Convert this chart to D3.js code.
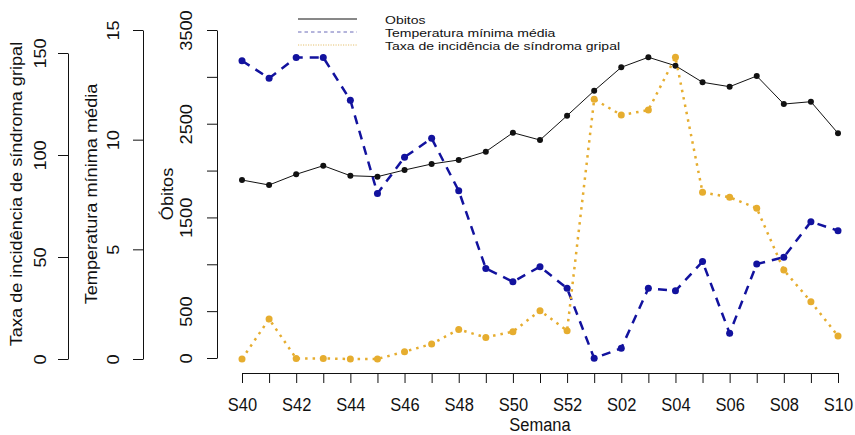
<!DOCTYPE html>
<html>
<head>
<meta charset="utf-8">
<script src="https://cdn.jsdelivr.net/npm/d3@7"></script>
<style>
	body { margin: 0; background: #fff; }
	svg { display: block; }
	text { font-family: "Liberation Sans", Arial, sans-serif; fill: #111; }
</style>
</head>
<body>
<div id="chart"></div>
<script>

// Datos
var semanas = ["S40","S41","S42","S43","S44","S45","S46","S47","S48","S49","S50","S51","S52",
	"S01","S02","S03","S04","S05","S06","S07","S08","S09","S10"];

var obitos = [1899, 1846, 1960, 2052, 1945, 1935, 2006, 2070, 2113, 2202, 2404, 2326, 2586,
	2852, 3102, 3209, 3119, 2942, 2895, 3009, 2710, 2735, 2398];

var temperatura = [13.6, 12.8, 13.75, 13.75, 11.8, 7.55, 9.2, 10.06, 7.67, 4.13, 3.52, 4.21, 3.22,
	0.03, 0.49, 3.22, 3.11, 4.44, 1.17, 4.33, 4.64, 6.26, 5.85];

var taxa = [0, 19.6, 0.3, 0.3, 0, 0, 3.6, 7.35, 14.5, 10.6, 13.4, 23.7, 13.9,
	127.3, 119.6, 122, 147.9, 81.7, 79.3, 73.9, 43.6, 28.1, 11.3];

var obitosTicks = [0, 500, 1000, 1500, 2000, 2500, 3000, 3500],
	obitosLabels = [0, 500, 1500, 2500, 3500],
	tempTicks = [0, 5, 10, 15],
	taxaTicks = [0, 50, 100, 150];

var legendLabels = ["Obitos", "Temperatura mínima média", "Taxa de incidência de síndroma gripal"];

// colores
var black = "#111",
	blue = "#12129e",
	orange = "#e6ad2f";

var width = 855,
	height = 435,
	fs = 16.5,   // tamaño de fuente de los ejes
	k = 1.1;     // la imagen original esta estirada en vertical

var svg = d3.select("#chart").append("svg")
	.attr("width", width)
	.attr("height", height);

// escalas
var x = d3.scalePoint().domain(semanas).range([242, 838]);
var yOb = d3.scaleLinear().domain([0, 3500]).range([358, 30]);
var yTemp = d3.scaleLinear().domain([0, 15]).range([359, 30]);
var yTaxa = d3.scaleLinear().domain([0, 150]).range([359, 53]);

// eje x
var gx = svg.append("g")
	.attr("transform", "translate(0,373)")
	.style("color", black)
	.call(d3.axisBottom(x).tickSize(10).tickSizeOuter(0)
		.tickFormat(function (d, i) { return i % 2 == 0 ? d : "" }));

gx.attr("font-family", null).attr("font-size", null);
gx.selectAll(".tick text")
	.attr("y", null).attr("dy", null)
	.attr("font-size", fs)
	.attr("transform", "translate(0,37.5) scale(1," + k + ")");

svg.append("text")
	.attr("text-anchor", "middle")
	.attr("font-size", fs)
	.attr("transform", "translate(540,431) scale(1," + k + ")")
	.text("Semana");

// ejes y (etiquetas giradas como en R)
function leftAxis(scale, xpos, ticks, labels, off) {
	var g = svg.append("g")
		.attr("transform", "translate(" + xpos + ",0)")
		.style("color", black)
		.call(d3.axisLeft(scale).tickValues(ticks).tickSize(10).tickSizeOuter(0)
			.tickFormat(function (d) { return labels.indexOf(d) >= 0 ? d : "" }));
	g.attr("font-family", null).attr("font-size", null);
	g.selectAll(".tick text")
		.attr("x", null).attr("dy", null)
		.attr("text-anchor", "middle")
		.attr("font-size", fs)
		.attr("transform", "translate(" + off + ",0) rotate(-90) scale(" + k + ",1)");
	return g;
}

leftAxis(yOb, 217, obitosTicks, obitosLabels, -25);
leftAxis(yTemp, 143, tempTicks, tempTicks, -24);
leftAxis(yTaxa, 68, taxaTicks, taxaTicks, -22);

function axisTitle(xpos, t) {
	svg.append("text")
		.attr("text-anchor", "middle")
		.attr("font-size", fs)
		.attr("transform", "translate(" + xpos + ",194) rotate(-90) scale(" + k + ",1)")
		.text(t);
}
axisTitle(173, "Óbitos");
axisTitle(97, "Temperatura mínima média");
axisTitle(22, "Taxa de incidência de síndroma gripal");

// series
function serie(values, y, color, lw, dash, r) {
	var line = d3.line()
		.x(function (d, i) { return x(semanas[i]) })
		.y(function (d) { return y(d) });

	svg.append("path")
		.datum(values)
		.attr("d", line)
		.attr("fill", "none")
		.attr("stroke", color)
		.attr("stroke-width", lw)
		.attr("stroke-dasharray", dash)
		.attr("stroke-linecap", dash ? "butt" : "round");

	svg.append("g").selectAll("circle")
		.data(values)
		.enter()
		.append("circle")
		.attr("cx", function (d, i) { return x(semanas[i]) })
		.attr("cy", function (d) { return y(d) })
		.attr("r", r)
		.attr("fill", color);
}

serie(obitos, yOb, black, 1, null, 3);
serie(temperatura, yTemp, blue, 2.5, "9,7", 3.5);
serie(taxa, yTaxa, orange, 2.5, "2.5,5", 3.5);

// leyenda: texto estrecho en vertical, se mide a 14px y se dibuja a 11.5px con el mismo ancho
var legendStyles = [
	{ color: black, dash: null },
	{ color: "#6a6ab8", dash: "3.5,3" },
	{ color: "#e4c070", dash: "1.2,1.3" }
];

var legend = svg.append("g");
legendLabels.forEach(function (t, i) {
	var yy = 24 + i * 13;
	legend.append("line")
		.attr("x1", 298).attr("x2", 357)
		.attr("y1", yy - 5).attr("y2", yy - 5)
		.attr("stroke", legendStyles[i].color)
		.attr("stroke-width", 1)
		.attr("stroke-dasharray", legendStyles[i].dash);
	var txt = legend.append("text")
		.attr("x", 385)
		.attr("y", yy)
		.attr("font-size", 14)
		.text(t);
	var w = txt.node().getComputedTextLength();
	txt.attr("font-size", 11.5)
		.attr("textLength", w)
		.attr("lengthAdjust", "spacingAndGlyphs");
});

</script>
</body>
</html>
